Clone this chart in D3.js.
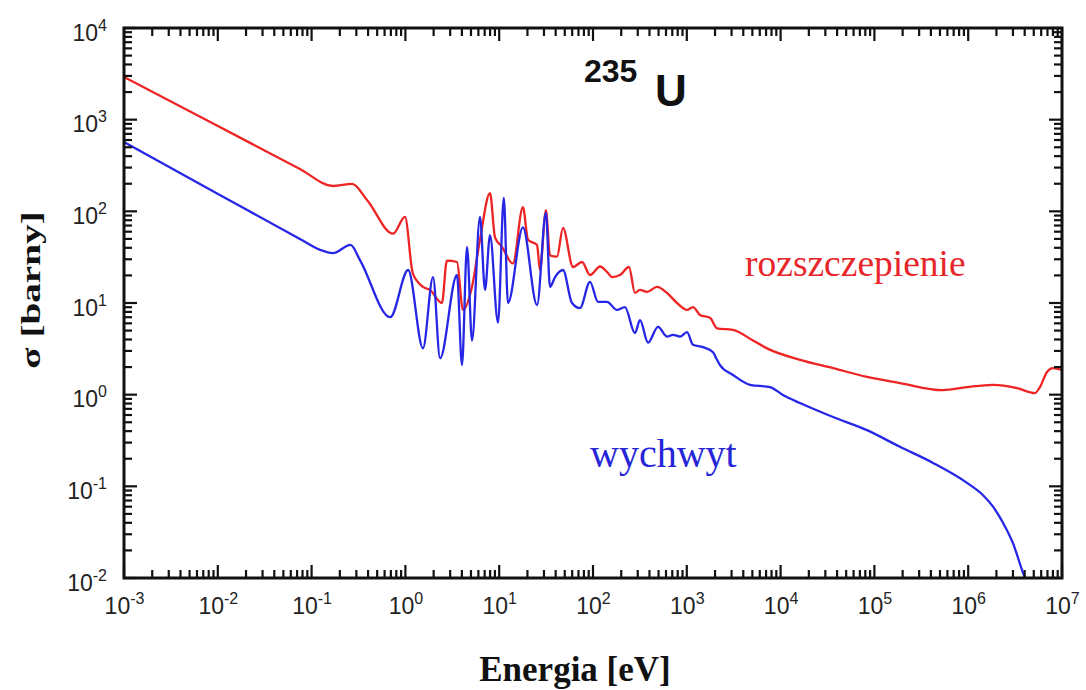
<!DOCTYPE html>
<html>
<head>
<meta charset="utf-8">
<script src="https://cdn.jsdelivr.net/npm/d3@7"></script>
<style>
  html, body { margin: 0; padding: 0; background: #fff; }
  svg { display: block; }
</style>
</head>
<body>
<svg id="chart" width="1086" height="690"></svg>
<script>
// ---- data ----
const energyFission = [0.001, 0.0105, 0.0751, 0.169, 0.27, 0.39, 0.74, 0.99, 1.2, 1.54, 1.83, 2.45, 2.77, 3.55, 4.11, 5.13, 6.24, 7.98, 9.02, 10.7, 14.0, 17.9, 20.3, 25.3, 27.2, 31.5, 34.8, 41.3, 47.9, 61.2, 76.4, 92.9, 119, 141, 160, 194, 242, 280, 317, 377, 481, 615, 787, 1005, 1165, 1383, 1768, 2099, 3110, 5080, 7160, 16100, 36200, 83400, 187000, 538000, 971000, 1.84e6, 3.31e6, 5.15e6, 5.82e6, 6.92e6, 8.02e6, 1e7];
const sigmaFission  = [2920, 832, 290, 189, 199, 133, 57, 87, 21, 15, 13.9, 10, 29, 28, 8.4, 15, 49, 158, 52, 41, 27, 111, 49, 43, 22.9, 103, 33, 32, 66, 24.7, 28, 20.2, 25, 21.8, 19.2, 20.2, 24.7, 12.9, 13.9, 13.2, 15, 12.9, 10, 8.4, 9.0, 7.4, 6.9, 5.3, 5.1, 3.9, 3.2, 2.4, 1.95, 1.56, 1.34, 1.12, 1.21, 1.28, 1.18, 1.04, 1.21, 1.77, 1.95, 1.86];

const energyCapture = [0.001, 0.0105, 0.0751, 0.123, 0.169, 0.26, 0.33, 0.69, 1.07, 1.54, 1.97, 2.34, 3.55, 4.01, 4.54, 5.13, 6.24, 7.06, 7.98, 9.71, 11.2, 12.4, 17.9, 25.3, 31.5, 34.8, 39.4, 47.9, 59.7, 72.6, 92.9, 113, 141, 180, 219, 280, 317, 386, 493, 615, 713, 847, 1005, 1165, 1489, 1902, 2099, 2259, 3110, 4720, 7710, 10600, 16100, 36200, 83400, 187000, 422000, 971000, 1.44e6, 1.84e6, 2.35e6, 3.0e6, 3.84e6, 4.03e6];
const sigmaCapture  = [570, 151, 49.9, 38, 35, 43, 29, 7.0, 22.9, 3.2, 19.2, 2.5, 20.2, 2.1, 41, 3.9, 87, 13.9, 55, 6.1, 140, 10, 67, 9.5, 96, 15, 19.2, 22.9, 10, 8.8, 17, 10.3, 10.3, 8.4, 9.0, 4.7, 6.5, 3.7, 5.5, 4.3, 4.5, 4.3, 4.8, 3.5, 3.3, 2.9, 2.4, 2.1, 1.64, 1.28, 1.21, 0.99, 0.81, 0.57, 0.41, 0.27, 0.18, 0.109, 0.080, 0.060, 0.040, 0.024, 0.0114, 0.010];

const xTickExponents = [-3, -2, -1, 0, 1, 2, 3, 4, 5, 6, 7];
const yTickExponents = [-2, -1, 0, 1, 2, 3, 4];

const seriesNames = ["rozszczepienie", "wychwyt"];
const titleMass = "235";
const titleElement = "U";
const xAxisTitle = "Energia [eV]";
const yAxisTitle = "σ [barny]";

// ---- layout ----
const L = 124, R = 1062, T = 28, B = 578;
const svg = d3.select("#chart");

const x = d3.scaleLog().domain([1e-3, 1e7]).range([L, R]);
const y = d3.scaleLog().domain([1e-2, 1e4]).range([B, T]);

const xMajor = xTickExponents.map(e => Math.pow(10, e));
const yMajor = yTickExponents.map(e => Math.pow(10, e));
function minors(exps) {
  const out = [];
  for (let i = 0; i < exps.length - 1; i++)
    for (let k = 2; k <= 9; k++) out.push(k * Math.pow(10, exps[i]));
  return out;
}
const xMinor = minors(xTickExponents);
const yMinor = minors(yTickExponents);

svg.append("defs").append("clipPath").attr("id", "plotclip")
  .append("rect").attr("x", L).attr("y", T).attr("width", R - L).attr("height", B - T);

// ---- lines ----
const line = d3.line()
  .x(d => x(d[0]))
  .y(d => y(d[1]))
  .curve(d3.curveMonotoneX);

const fission = energyFission.map((e, i) => [e, sigmaFission[i]]);
const capture = energyCapture.map((e, i) => [e, sigmaCapture[i]]);

const plot = svg.append("g").attr("clip-path", "url(#plotclip)");
plot.append("path").datum(fission).attr("d", line)
  .attr("fill", "none").attr("stroke", "#ee2424").attr("stroke-width", 2.3).attr("stroke-linejoin", "round");
plot.append("path").datum(capture).attr("d", line)
  .attr("fill", "none").attr("stroke", "#2626e6").attr("stroke-width", 2.3).attr("stroke-linejoin", "round");

// ---- tick marks (inward, on all four sides) ----
const tickG = svg.append("g");
function xTicks(vals, len) {
  tickG.append("g").selectAll("line").data(vals).join("line")
    .attr("x1", d => x(d)).attr("x2", d => x(d)).attr("y1", B).attr("y2", B - len)
    .attr("stroke", "#111").attr("stroke-width", 2.2);
  tickG.append("g").selectAll("line").data(vals).join("line")
    .attr("x1", d => x(d)).attr("x2", d => x(d)).attr("y1", T).attr("y2", T + len)
    .attr("stroke", "#111").attr("stroke-width", 2.2);
}
function yTicks(vals, len) {
  tickG.append("g").selectAll("line").data(vals).join("line")
    .attr("y1", d => y(d)).attr("y2", d => y(d)).attr("x1", L).attr("x2", L + len)
    .attr("stroke", "#111").attr("stroke-width", 2.2);
  tickG.append("g").selectAll("line").data(vals).join("line")
    .attr("y1", d => y(d)).attr("y2", d => y(d)).attr("x1", R).attr("x2", R - len)
    .attr("stroke", "#111").attr("stroke-width", 2.2);
}
xTicks(xMajor, 13); xTicks(xMinor, 8);
yTicks(yMajor, 13); yTicks(yMinor, 8);

// ---- tick labels via axis generators ----
const fmtSup = e => (e < 0 ? "-" + Math.abs(e) : "" + e);
const gb = svg.append("g").attr("transform", `translate(0,${B})`)
  .call(d3.axisBottom(x).tickValues(xMajor).tickSize(0).tickFormat(d => d));
gb.select(".domain").remove();
gb.selectAll(".tick text").each(function(d) {
  const t = d3.select(this);
  const e = Math.round(Math.log10(d));
  t.text(null).attr("y", 36).attr("dy", 0).attr("fill", "#222")
   .attr("font-family", "Liberation Sans, Arial, sans-serif").attr("font-size", 23);
  t.append("tspan").text("10");
  t.append("tspan").attr("dy", -10).attr("font-size", 16).text(fmtSup(e));
});

const gl = svg.append("g").attr("transform", `translate(${L},0)`)
  .call(d3.axisLeft(y).tickValues(yMajor).tickSize(0).tickFormat(d => d));
gl.select(".domain").remove();
gl.selectAll(".tick text").each(function(d) {
  const t = d3.select(this);
  const e = Math.round(Math.log10(d));
  t.text(null).attr("x", -17).attr("y", 12).attr("dy", 0).attr("fill", "#222")
   .attr("text-anchor", "end")
   .attr("font-family", "Liberation Sans, Arial, sans-serif").attr("font-size", 23);
  t.append("tspan").text("10");
  t.append("tspan").attr("dy", -10).attr("font-size", 16).text(fmtSup(e));
});

// frame
svg.append("rect").attr("x", L).attr("y", T).attr("width", R - L).attr("height", B - T)
  .attr("fill", "none").attr("stroke", "#111").attr("stroke-width", 3);

// ---- texts ----
const title = svg.append("text").attr("font-family", "Liberation Sans, Arial, sans-serif")
  .attr("font-weight", "bold").attr("fill", "#111");
title.append("tspan").attr("x", 584).attr("y", 82).attr("font-size", 32).text(titleMass);
title.append("tspan").attr("x", 655).attr("y", 106).attr("font-size", 44).text(titleElement);

svg.append("text").attr("x", 745).attr("y", 276)
  .attr("font-family", "Liberation Serif, Times New Roman, serif").attr("font-size", 37.5)
  .attr("fill", "#e8262a").text(seriesNames[0]);
svg.append("text").attr("x", 590).attr("y", 467)
  .attr("font-family", "Liberation Serif, Times New Roman, serif").attr("font-size", 40)
  .attr("fill", "#2626d8").text(seriesNames[1]);

svg.append("text").attr("x", 575).attr("y", 681).attr("text-anchor", "middle")
  .attr("font-family", "Liberation Serif, Times New Roman, serif").attr("font-size", 35)
  .attr("font-weight", "bold").attr("fill", "#111").text(xAxisTitle);

svg.append("text").attr("transform", "translate(40,290) rotate(-90) scale(1.4,1)").attr("text-anchor", "middle")
  .attr("font-family", "Liberation Serif, Times New Roman, serif").attr("font-size", 28)
  .attr("font-weight", "bold").attr("fill", "#111").text(yAxisTitle);
</script>
</body>
</html>
